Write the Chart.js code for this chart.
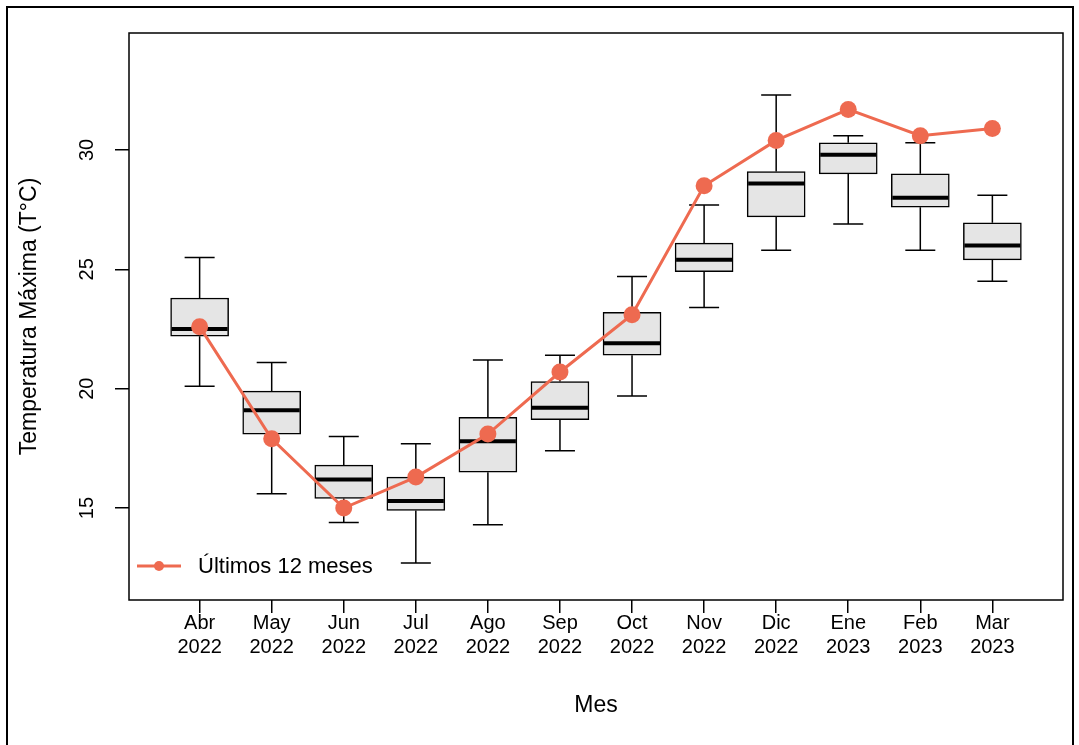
<!DOCTYPE html>
<html>
<head>
<meta charset="utf-8">
<script src="https://cdn.jsdelivr.net/npm/chart.js@4"></script>
<style>
  html, body { margin: 0; padding: 0; background: #fff; }
  #wrap { position: relative; width: 1079px; height: 745px; overflow: hidden; }
  #frame { position: absolute; left: 6px; top: 6px; width: 1064px; height: 760px; border: 2px solid #000; pointer-events: none; }
</style>
</head>
<body>
<div id="wrap">
  <canvas id="boxChart" width="1079" height="745"></canvas>
  <div id="frame"></div>
</div>
<script>
// Months (x axis) and the year shown under each one
const months = ['Abr', 'May', 'Jun', 'Jul', 'Ago', 'Sep', 'Oct', 'Nov', 'Dic', 'Ene', 'Feb', 'Mar'];
const years = ['2022', '2022', '2022', '2022', '2022', '2022', '2022', '2022', '2022', '2023', '2023', '2023'];

// Box plot statistics per month (historic maximum temperature)
const whiskerLow = [20.1, 15.6, 14.4, 12.7, 14.3, 17.4, 19.7, 23.4, 25.8, 26.9, 25.8, 24.5];
const q1 = [22.2, 18.1, 15.4, 14.9, 16.5, 18.7, 21.4, 24.9, 27.2, 29.0, 27.6, 25.4];
const median = [22.5, 19.1, 16.2, 15.3, 17.8, 19.2, 21.9, 25.4, 28.6, 29.8, 28.0, 26.0];
const q3 = [23.8, 19.9, 16.8, 16.3, 18.8, 20.3, 23.2, 26.1, 29.1, 30.3, 29.0, 26.95];
const whiskerHigh = [25.5, 21.1, 18.0, 17.7, 21.2, 21.4, 24.7, 27.7, 32.3, 30.6, 30.3, 28.1];

// Last 12 months series
const last12 = [22.6, 17.9, 15.0, 16.3, 18.1, 20.7, 23.1, 28.5, 30.4, 31.7, 30.6, 30.9];

// Y axis tick labels
const yTicks = [15, 20, 25, 30];

const fontFamily = "'Liberation Sans', Arial, sans-serif";
const lineColor = '#EE6A50';

// Whiskers and median lines drawn on top of the boxes
const whiskerPlugin = {
    id: 'whiskers',
    afterDatasetDraw(chart, args) {
        if (args.meta.type !== 'bar') return;
        const { ctx, scales: { x, y } } = chart;
        ctx.save();
        ctx.strokeStyle = '#000';
        months.forEach((m, i) => {
            const cx = x.getPixelForValue(i + 1);
            ctx.lineWidth = 1.5;
            ctx.beginPath();
            // upper whisker + cap
            ctx.moveTo(cx, y.getPixelForValue(q3[i]));
            ctx.lineTo(cx, y.getPixelForValue(whiskerHigh[i]));
            ctx.moveTo(cx - 15, y.getPixelForValue(whiskerHigh[i]));
            ctx.lineTo(cx + 15, y.getPixelForValue(whiskerHigh[i]));
            // lower whisker + cap
            ctx.moveTo(cx, y.getPixelForValue(q1[i]));
            ctx.lineTo(cx, y.getPixelForValue(whiskerLow[i]));
            ctx.moveTo(cx - 15, y.getPixelForValue(whiskerLow[i]));
            ctx.lineTo(cx + 15, y.getPixelForValue(whiskerLow[i]));
            ctx.stroke();
            // median
            ctx.lineWidth = 4;
            ctx.beginPath();
            ctx.moveTo(cx - 28, y.getPixelForValue(median[i]));
            ctx.lineTo(cx + 28, y.getPixelForValue(median[i]));
            ctx.stroke();
        });
        ctx.restore();
    }
};

// Box around the plot region and the legend in its lower-left corner
const framePlugin = {
    id: 'plotFrame',
    afterDraw(chart) {
        const { ctx, chartArea: a } = chart;
        ctx.save();
        ctx.strokeStyle = '#000';
        ctx.lineWidth = 1.5;
        ctx.strokeRect(a.left, a.top, a.right - a.left, a.bottom - a.top);

        // legend
        const ly = a.bottom - 34;
        ctx.strokeStyle = lineColor;
        ctx.lineWidth = 3;
        ctx.beginPath();
        ctx.moveTo(a.left + 8, ly);
        ctx.lineTo(a.left + 52, ly);
        ctx.stroke();
        ctx.fillStyle = lineColor;
        ctx.beginPath();
        ctx.arc(a.left + 30, ly, 5, 0, Math.PI * 2);
        ctx.fill();
        ctx.fillStyle = '#000';
        ctx.font = '22px ' + fontFamily;
        ctx.textBaseline = 'middle';
        ctx.fillText('Últimos 12 meses', a.left + 69, ly + 1);
        ctx.restore();
    }
};

const ctx = document.getElementById('boxChart').getContext('2d');

new Chart(ctx, {
    data: {
        datasets: [{
            type: 'line',
            label: 'Últimos 12 meses',
            data: last12.map((v, i) => ({ x: i + 1, y: v })),
            borderColor: lineColor,
            backgroundColor: lineColor,
            borderWidth: 3,
            pointRadius: 8.5,
            pointBorderWidth: 0,
            pointHoverRadius: 8.5,
            order: 0
        }, {
            type: 'bar',
            label: 'Histórico',
            data: months.map((m, i) => ({ x: i + 1, y: [q1[i], q3[i]] })),
            backgroundColor: '#e5e5e5',
            borderColor: '#000',
            borderWidth: 1.5,
            borderSkipped: false,
            barThickness: 58,
            order: 1
        }]
    },
    options: {
        responsive: false,
        animation: false,
        events: [],
        layout: { padding: { top: 33, right: 16, left: 0, bottom: 0 } },
        plugins: {
            legend: { display: false },
            tooltip: { enabled: false }
        },
        scales: {
            x: {
                type: 'linear',
                min: 0.02,
                max: 12.98,
                offset: false,
                afterBuildTicks: s => { s.ticks = months.map((m, i) => ({ value: i + 1 })); },
                afterFit: s => { s.height = 145; },
                grid: { offset: false, drawOnChartArea: false, tickLength: 13, color: '#000', lineWidth: 1.5 },
                border: { display: false },
                ticks: {
                    padding: -2,
                    color: '#000',
                    autoSkip: false,
                    maxRotation: 0,
                    font: { family: fontFamily, size: 20, lineHeight: 1.2 },
                    callback: (v, i) => [months[i], years[i]]
                },
                title: {
                    display: true,
                    text: 'Mes',
                    color: '#000',
                    font: { family: fontFamily, size: 23 },
                    padding: { top: 0, bottom: 26 }
                }
            },
            y: {
                min: 11.15,
                max: 34.9,
                afterBuildTicks: s => { s.ticks = yTicks.map(v => ({ value: v })); },
                afterFit: s => { s.width = 129; },
                grid: { drawOnChartArea: false, tickLength: 14, color: '#000', lineWidth: 1.5 },
                border: { display: false },
                ticks: {
                    padding: 16,
                    color: '#000',
                    minRotation: 90,
                    maxRotation: 90,
                    crossAlign: 'center',
                    font: { family: fontFamily, size: 20 }
                },
                title: {
                    display: true,
                    text: 'Temperatura Máxima (T°C)',
                    color: '#000',
                    font: { family: fontFamily, size: 23 },
                    padding: { top: 16, bottom: 0 }
                }
            }
        }
    },
    plugins: [whiskerPlugin, framePlugin]
});
</script>
</body>
</html>
